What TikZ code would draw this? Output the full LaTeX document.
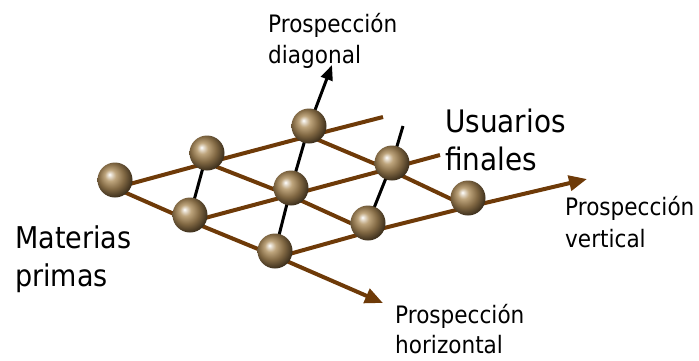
\documentclass[tikz,border=0pt]{standalone}
\usepackage{fontspec}
\setmainfont{DejaVu Sans}[FakeStretch=0.9]
\usetikzlibrary{arrows.meta,backgrounds,calc}
\definecolor{wire}{RGB}{110,58,8}
\definecolor{bzlight}{RGB}{190,165,125}
\definecolor{bzmid}{RGB}{130,105,68}
\definecolor{bzdark}{RGB}{50,38,22}
\pgfdeclareradialshading{bronze}{\pgfpoint{-8bp}{8bp}}{color(0bp)=(white); color(3bp)=(white!60!bzlight); color(8bp)=(bzlight); color(18bp)=(bzmid); color(30bp)=(bzdark); color(50bp)=(bzdark)}
\tikzset{
  wireline/.style={draw=wire, line width=4pt},
  rod/.style={draw=black, line width=3pt},
  ball/.style={circle, minimum size=35pt, inner sep=0pt, shade, shading=bronze},
  lab/.style={anchor=base west, inner sep=0pt, align=left},
  wtip/.style={-{Triangle[length=18pt,width=15pt]}},
  rtip/.style={-{Triangle[length=15pt,width=12pt]}},
}
\begin{document}
\begin{tikzpicture}[x=1pt,y=-1pt]
\useasboundingbox (0,0) rectangle (699,360);
% spheres
\node[ball] (A) at (115,180) {};
\node[ball] (B) at (207,153) {};
\node[ball] (D) at (309,126) {};
\node[ball] (C) at (190,215) {};
\node[ball] (E) at (291,188) {};
\node[ball] (G) at (392,163) {};
\node[ball] (F) at (275,251) {};
\node[ball] (H) at (368,223) {};
\node[ball] (I) at (468,198) {};
% free ends
\coordinate (r1) at (383,117);
\coordinate (r2) at (440,155);
\coordinate (vtip) at (587,179);
\coordinate (htip) at (383,303);
\coordinate (dtip) at (332,65);
\coordinate (gtop) at (403,126);
\begin{scope}[on background layer]
  \draw[wireline] ($(A.center)+(0,8)$) -- ($(B.center)+(0,10)$) -- ($(D.center)+(0,10)$) -- (r1);
  \draw[wireline] ($(C.center)+(0,7)$) -- ($(E.center)+(0,7)$) -- ($(G.center)+(0,5)$) -- (r2);
  \draw[wireline,wtip] ($(F.center)+(0,7)$) -- ($(H.center)+(0,9)$) -- ($(I.center)+(0,9)$) -- (vtip);
  \draw[wireline,wtip] ($(A.center)+(0,8)$) -- ($(C.center)+(0,6)$) -- ($(F.center)+(0,5)$) -- (htip);
  \draw[wireline] ($(B.center)+(0,10)$) -- ($(E.center)+(0,8)$) -- ($(H.center)+(0,8)$);
  \draw[wireline] ($(D.center)+(0,10)$) -- ($(G.center)+(0,8)$) -- ($(I.center)+(0,9)$);
  \draw[rod] (C.center) -- (B.center);
  \draw[rod] (F.center) -- (E.center) -- (D.center);
  \draw[rod,rtip] (D.center) -- (dtip);
  \draw[rod] (H.center) -- (G.center) -- (gtop);
\end{scope}
% labels (anchor = baseline of last line)
\node[lab, font=\fontsize{24}{31}\selectfont] (ldiag) at (268,63) {Prospección\\diagonal};
\node[lab, font=\fontsize{31}{38}\selectfont] (luser) at (445,170) {Usuarios\\finales};
\node[lab, font=\fontsize{30}{38}\selectfont] (lmat) at (15,286) {Materias\\primas};
\node[lab, font=\fontsize{24}{32}\selectfont] (lvert) at (565,247) {Prospección\\vertical};
\node[lab, font=\fontsize{24}{30}\selectfont] (lhor) at (395,353) {Prospección\\horizontal};
\end{tikzpicture}
\end{document}
